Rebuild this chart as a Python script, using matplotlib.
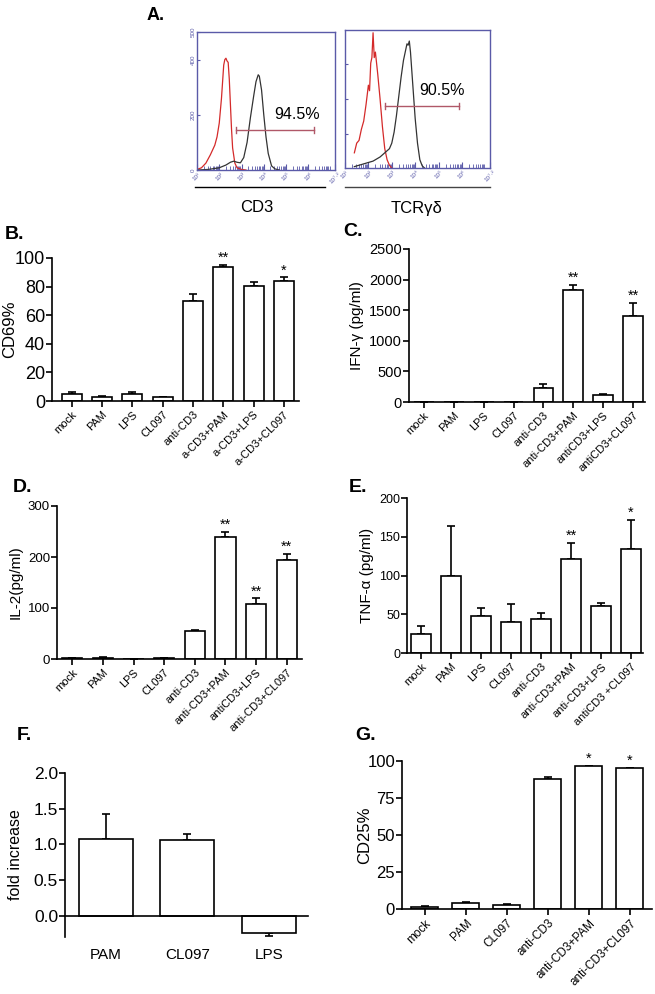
import numpy as np
import matplotlib.pyplot as plt

plt.rcParams['font.family'] = ['Liberation Sans', 'DejaVu Sans']

W, H = 655, 994

# ---- panel A histograms (log10 fluorescence, counts) ----
cd3_red_x = [1.0, 1.2, 1.4, 1.6, 1.8, 1.9, 2.0, 2.1, 2.2, 2.25, 2.3, 2.35, 2.4, 2.45, 2.5, 2.55, 2.6, 2.7, 2.8, 3.0, 3.2]
cd3_red_y = [2, 8, 25, 55, 90, 120, 170, 260, 380, 400, 405, 395, 390, 330, 240, 150, 80, 25, 8, 2, 0]
cd3_blk_x = [1.0, 1.5, 2.0, 2.3, 2.5, 2.65, 2.8, 2.95, 3.1, 3.25, 3.4, 3.55, 3.65, 3.75, 3.8, 3.9, 4.0, 4.1, 4.2, 4.35, 4.5, 4.7]
cd3_blk_y = [0, 2, 8, 18, 28, 32, 28, 26, 45, 100, 190, 270, 320, 345, 340, 290, 200, 120, 60, 15, 4, 0]
cd3_gate = (2.76, 6.26, 145)
cd3_pct = "94.5%"

tcr_red_x = [1.4, 1.5, 1.6, 1.7, 1.8, 1.9, 2.0, 2.05, 2.1, 2.15, 2.2, 2.25, 2.3, 2.4, 2.5, 2.6, 2.7, 2.8, 2.9, 3.0]
tcr_red_y = [55, 90, 100, 140, 170, 230, 300, 280, 380, 400, 490, 400, 420, 340, 250, 150, 70, 30, 10, 0]
tcr_blk_x = [1.4, 1.8, 2.2, 2.5, 2.7, 2.9, 3.0, 3.1, 3.2, 3.3, 3.4, 3.5, 3.6, 3.65, 3.7, 3.75, 3.8, 3.9, 4.0, 4.1, 4.2, 4.3, 4.4]
tcr_blk_y = [5, 15, 25, 40, 55, 70, 90, 130, 190, 260, 330, 390, 430, 450, 445, 460, 420, 300, 180, 90, 30, 8, 0]
tcr_gate = (2.71, 5.89, 225)
tcr_pct = "90.5%"

# ---- bar panels ----
b_labels = ['mock', 'PAM', 'LPS', 'CL097', 'anti-CD3', 'a-CD3+PAM', 'a-CD3+LPS', 'a-CD3+CL097']
b_vals = [5, 3, 5, 2.5, 70, 93.5, 80.5, 84]
b_err = [1.5, 0.5, 1, 0.5, 4.5, 1.5, 3, 2.5]
b_sig = ['', '', '', '', '', '**', '', '*']

c_labels = ['mock', 'PAM', 'LPS', 'CL097', 'anti-CD3', 'anti-CD3+PAM', 'antiCD3+LPS', 'antiCD3+CL097']
c_vals = [5, 0, 0, 0, 230, 1830, 110, 1400]
c_err = [0, 0, 0, 0, 60, 80, 20, 220]
c_sig = ['', '', '', '', '', '**', '', '**']

d_labels = ['mock', 'PAM', 'LPS', 'CL097', 'anti-CD3', 'anti-CD3+PAM', 'antiCD3+LPS', 'anti-CD3+CL097']
d_vals = [1, 2, 0, 1.5, 54, 239, 107, 194]
d_err = [0, 1, 0, 0.5, 2, 11, 12, 12]
d_sig = ['', '', '', '', '', '**', '**', '**']

e_labels = ['mock', 'PAM', 'LPS', 'CL097', 'anti-CD3', 'anti-CD3+PAM', 'anti-CD3+LPS', 'antiCD3 +CL097']
e_vals = [25, 99, 48, 40, 44, 121, 61, 134]
e_err = [10, 65, 10, 23, 8, 21, 4, 38]
e_sig = ['', '', '', '', '', '**', '', '*']

f_labels = ['PAM', 'CL097', 'LPS']
f_vals = [1.07, 1.06, -0.24]
f_err = [0.35, 0.08, 0.04]

g_labels = ['mock', 'PAM', 'CL097', 'anti-CD3', 'anti-CD3+PAM', 'anti-CD3+CL097']
g_vals = [1.5, 4, 3, 88, 96.5, 95]
g_err = [0.5, 0.5, 0.5, 1, 0.3, 0.3]
g_sig = ['', '', '', '', '*', '*']


fig = plt.figure(figsize=(W / 100, H / 100), dpi=100)


def ax_px(l, t, r, b):
    ax = fig.add_axes([l / W, 1 - b / H, (r - l) / W, (b - t) / H])
    ax.px = (l, r)
    return ax


def label(x, y, s, size=14):
    fig.text(x / W, 1 - y / H, s, fontsize=size, fontweight='bold', va='center', ha='left')


def ylab(ax, s, x_px, size):
    # put the y label centre at a pixel column
    l, r = ax.px
    ax.set_ylabel(s, fontsize=size, va='center')
    ax.yaxis.set_label_coords((x_px - l) / (r - l), 0.5)


# ---------- A ----------
blue = '#5a5aa8'
minor = [np.log10(k * 10 ** n) for n in range(1, 8) for k in range(2, 10) if k * 10 ** n < 10 ** 7.2]
xt = [1, 2, 3, 4, 5, 6, 7.2]
xtl = ['10¹', '10²', '10³', '10⁴', '10⁵', '10⁶', '10⁷·²']


def hist_ax(ax, rx, ry, kx, ky, gate, pct, ylabels):
    ax.plot(rx, ry, color='#d42a2a', lw=0.9)
    ax.plot(kx, ky, color='#333333', lw=0.9)
    g0, g1, gy = gate
    gc = '#b05868'
    ax.plot([g0, g1], [gy, gy], color=gc, lw=1)
    ax.plot([g0, g0], [gy - 12, gy + 12], color=gc, lw=1)
    ax.plot([g1, g1], [gy - 12, gy + 12], color=gc, lw=1)
    ax.text(g1 - 0.75, gy + 30, pct, fontsize=11.5, ha='center', va='bottom')
    ax.set_xlim(1, 7.2)
    ax.set_ylim(0, 500)
    for s in ax.spines.values():
        s.set_color(blue)
        s.set_linewidth(1)
    ax.set_xticks(xt)
    ax.set_xticklabels(xtl, fontsize=4.5, color=blue, rotation=45)
    ax.set_xticks(minor, minor=True)
    ax.tick_params(axis='x', which='both', direction='in', colors=blue, length=3, pad=1)
    ax.tick_params(axis='x', which='major', length=4)
    if ylabels:
        ax.set_yticks([0, 200, 400, 500])
        ax.set_yticklabels(['0', '200', '400', '500'], fontsize=4.5, color=blue, rotation=90, va='center')
    else:
        ax.set_yticks([125, 250, 375])
        ax.set_yticklabels([])
    ax.tick_params(axis='y', direction='in', colors=blue, length=2, pad=1)


ax = ax_px(197, 32, 335, 170)
hist_ax(ax, cd3_red_x, cd3_red_y, cd3_blk_x, cd3_blk_y, cd3_gate, cd3_pct, True)
ax = ax_px(345, 30, 490, 168)
hist_ax(ax, tcr_red_x, tcr_red_y, tcr_blk_x, tcr_blk_y, tcr_gate, tcr_pct, False)
fig.add_artist(plt.Line2D([195 / W, 325 / W], [1 - 187 / H, 1 - 187 / H], color='black', lw=1))
fig.add_artist(plt.Line2D([345 / W, 490 / W], [1 - 187 / H, 1 - 187 / H], color='#444444', lw=1))
fig.text(257 / W, 1 - 208 / H, 'CD3', fontsize=12, ha='center', va='center')
fig.text(417 / W, 1 - 208 / H, 'TCRγδ', fontsize=12, ha='center', va='center')
label(147, 15, 'A.', 13)


# ---------- bar panels ----------
def bar_ax(ax, labels, vals, err, sig, ylim, yticks, xlim, ysize, xsize, width=0.66):
    x = np.arange(len(vals))
    lo = [0] * len(vals)
    ax.bar(x, vals, width=width, color='white', edgecolor='black', linewidth=1.2, zorder=2)
    ax.errorbar(x, vals, yerr=[lo, err], fmt='none', ecolor='black', elinewidth=1.2, capsize=3.2, capthick=1.2, zorder=1)
    for xi, v, e, s in zip(x, vals, err, sig):
        if s:
            ax.annotate(s, (xi, v + e), xytext=(0, 0), textcoords='offset points', ha='center', va='bottom', fontsize=10.5)
    ax.set_xlim(*xlim)
    ax.set_ylim(*ylim)
    ax.set_yticks(yticks)
    ax.set_xticks(x)
    ax.set_xticklabels(labels, rotation=45, ha='right', rotation_mode='anchor', fontsize=xsize)
    ax.tick_params(axis='y', labelsize=ysize, width=1.2, length=4, pad=1)
    ax.tick_params(axis='x', width=1.2, length=4, pad=2)
    for s in ['top', 'right']:
        ax.spines[s].set_visible(False)
    for s in ['left', 'bottom']:
        ax.spines[s].set_linewidth(1.2)


ax = ax_px(52, 258, 299, 401)
bar_ax(ax, b_labels, b_vals, b_err, b_sig, (0, 100), range(0, 101, 20), (-0.65, 7.5), 13, 8)
ylab(ax, 'CD69%', 10, 12)
label(5, 235, 'B.')

ax = ax_px(409, 249, 645, 402)
bar_ax(ax, c_labels, c_vals, c_err, c_sig, (0, 2500), range(0, 2501, 500), (-0.5, 7.4), 10.5, 8)
ylab(ax, 'IFN-γ (pg/ml)', 357, 11)
label(343, 232, 'C.')

ax = ax_px(57, 506, 302, 659)
bar_ax(ax, d_labels, d_vals, d_err, d_sig, (0, 300), [0, 100, 200, 300], (-0.5, 7.5), 9.5, 8)
ylab(ax, 'IL-2(pg/ml)', 16, 11)
label(13, 488, 'D.')

ax = ax_px(407, 498, 643, 653)
bar_ax(ax, e_labels, e_vals, e_err, e_sig, (0, 200), range(0, 201, 50), (-0.47, 7.4), 9, 8)
ylab(ax, 'TNF-α (pg/ml)', 367, 11)
label(349, 488, 'E.')

ax = ax_px(402, 761, 652, 909)
bar_ax(ax, g_labels, g_vals, g_err, g_sig, (0, 100), range(0, 101, 25), (-0.56, 5.54), 12, 8.5)
ylab(ax, 'CD25%', 365, 12)
label(355, 735, 'G.')

# ---------- F ----------
ax = ax_px(65, 773, 308, 937)
xf = np.arange(len(f_vals))
ax.bar(xf, f_vals, width=0.66, color='white', edgecolor='black', linewidth=1.2, zorder=2)
f_lo = [0 if v >= 0 else e for v, e in zip(f_vals, f_err)]
f_hi = [e if v >= 0 else 0 for v, e in zip(f_vals, f_err)]
ax.errorbar(xf, f_vals, yerr=[f_lo, f_hi], fmt='none', ecolor='black', elinewidth=1.2, capsize=3.2, capthick=1.2, zorder=1)
ax.set_xlim(-0.5, 2.48)
ax.set_ylim(-0.3, 2.0)
ax.set_yticks([0, 0.5, 1.0, 1.5, 2.0])
ax.set_yticklabels(['0.0', '0.5', '1.0', '1.5', '2.0'])
ax.spines['bottom'].set_position(('data', 0))
ax.spines['top'].set_visible(False)
ax.spines['right'].set_visible(False)
ax.spines['left'].set_linewidth(1.2)
ax.spines['bottom'].set_linewidth(1.2)
ax.set_xticks(xf)
ax.set_xticklabels(f_labels, fontsize=11)
ax.tick_params(axis='x', length=0, pad=23)
ax.tick_params(axis='y', labelsize=12.5, width=1.2, length=4, pad=1)
ylab(ax, 'fold increase', 16, 11.5)
label(17, 735, 'F.')

fig.savefig('out.png', dpi=100)
